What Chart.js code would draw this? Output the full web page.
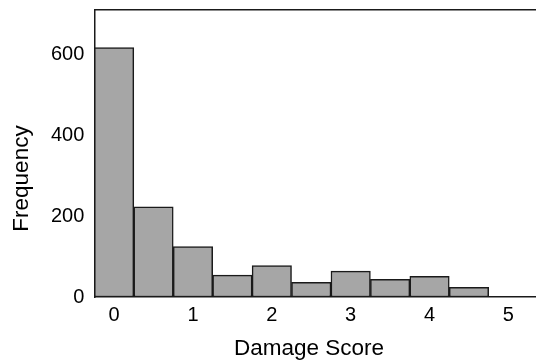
<!DOCTYPE html>
<html>
<head>
<meta charset="utf-8">
<script src="https://cdn.jsdelivr.net/npm/chart.js@4"></script>
<style>
  html, body { margin: 0; padding: 0; background: #fff; overflow: hidden; }
  #wrap { width: 536px; height: 362px; }
</style>
</head>
<body>
<div id="wrap"><canvas id="hist"></canvas></div>
<script>
// Histogram bins (centre of each 0.5-wide bin) and counts
const binCenters = [0, 0.5, 1, 1.5, 2, 2.5, 3, 3.5, 4, 4.5];
const frequencies = [617, 223, 125, 54, 78, 36, 64, 44, 51, 24];
const xTicks = [0, 1, 2, 3, 4, 5];
const yTicks = [0, 200, 400, 600];

const axisColor = "#1a1a1a";
const fontFamily = "'Liberation Sans', Arial, sans-serif";

// drop the label overhang padding so the plot box sits where we put it
function noOverhang(axis) {
  axis.paddingTop = 0;
  axis.paddingBottom = 0;
  axis.paddingLeft = 0;
  axis.paddingRight = 0;
}

new Chart(document.getElementById("hist"), {
  type: "bar",
  data: {
    datasets: [
      {
        data: binCenters.map((x, i) => ({ x: x, y: frequencies[i] })),
        backgroundColor: "#a6a6a6",
        borderColor: axisColor,
        borderWidth: 1.5,
        borderSkipped: false,
        barPercentage: 1,
        categoryPercentage: 1,
      },
    ],
  },
  options: {
    responsive: true,
    maintainAspectRatio: false,
    animation: false,
    layout: { padding: { top: 10, left: 8, right: 0, bottom: 0 } },
    scales: {
      x: {
        type: "linear",
        offset: false,
        min: -0.25,
        max: 5.35,
        afterBuildTicks: (axis) => {
          axis.ticks = xTicks.map((v) => ({ value: v }));
        },
        afterFit: noOverhang,
        grid: { display: false, drawTicks: false },
        border: { display: true, color: axisColor, width: 1.5 },
        ticks: {
          color: "#000",
          padding: 6,
          font: { family: fontFamily, size: 20 },
        },
        title: {
          display: true,
          // trailing space nudges the centred title a little left, as in the original
          text: "Damage Score  ",
          color: "#000",
          padding: { top: 2, bottom: 0 },
          font: { family: fontFamily, size: 22.5 },
        },
      },
      xTop: {
        type: "linear",
        position: "top",
        offset: false,
        min: -0.25,
        max: 5.35,
        afterFit: noOverhang,
        grid: { display: false, drawTicks: false },
        ticks: { display: false },
        border: { display: true, color: axisColor, width: 1.5 },
      },
      y: {
        min: 0,
        max: 710,
        afterBuildTicks: (axis) => {
          axis.ticks = yTicks.map((v) => ({ value: v }));
        },
        afterFit: noOverhang,
        grid: { display: false, drawTicks: false },
        border: { display: true, color: axisColor, width: 1.5 },
        ticks: {
          color: "#000",
          padding: 10,
          font: { family: fontFamily, size: 20 },
        },
        title: {
          display: true,
          // padded so the label sits lower than the axis centre
          text: "Frequency        ",
          color: "#000",
          padding: { top: 0, bottom: 6 },
          font: { family: fontFamily, size: 22.5 },
        },
      },
    },
    plugins: {
      legend: { display: false },
      tooltip: { enabled: false },
    },
  },
});
</script>
</body>
</html>
